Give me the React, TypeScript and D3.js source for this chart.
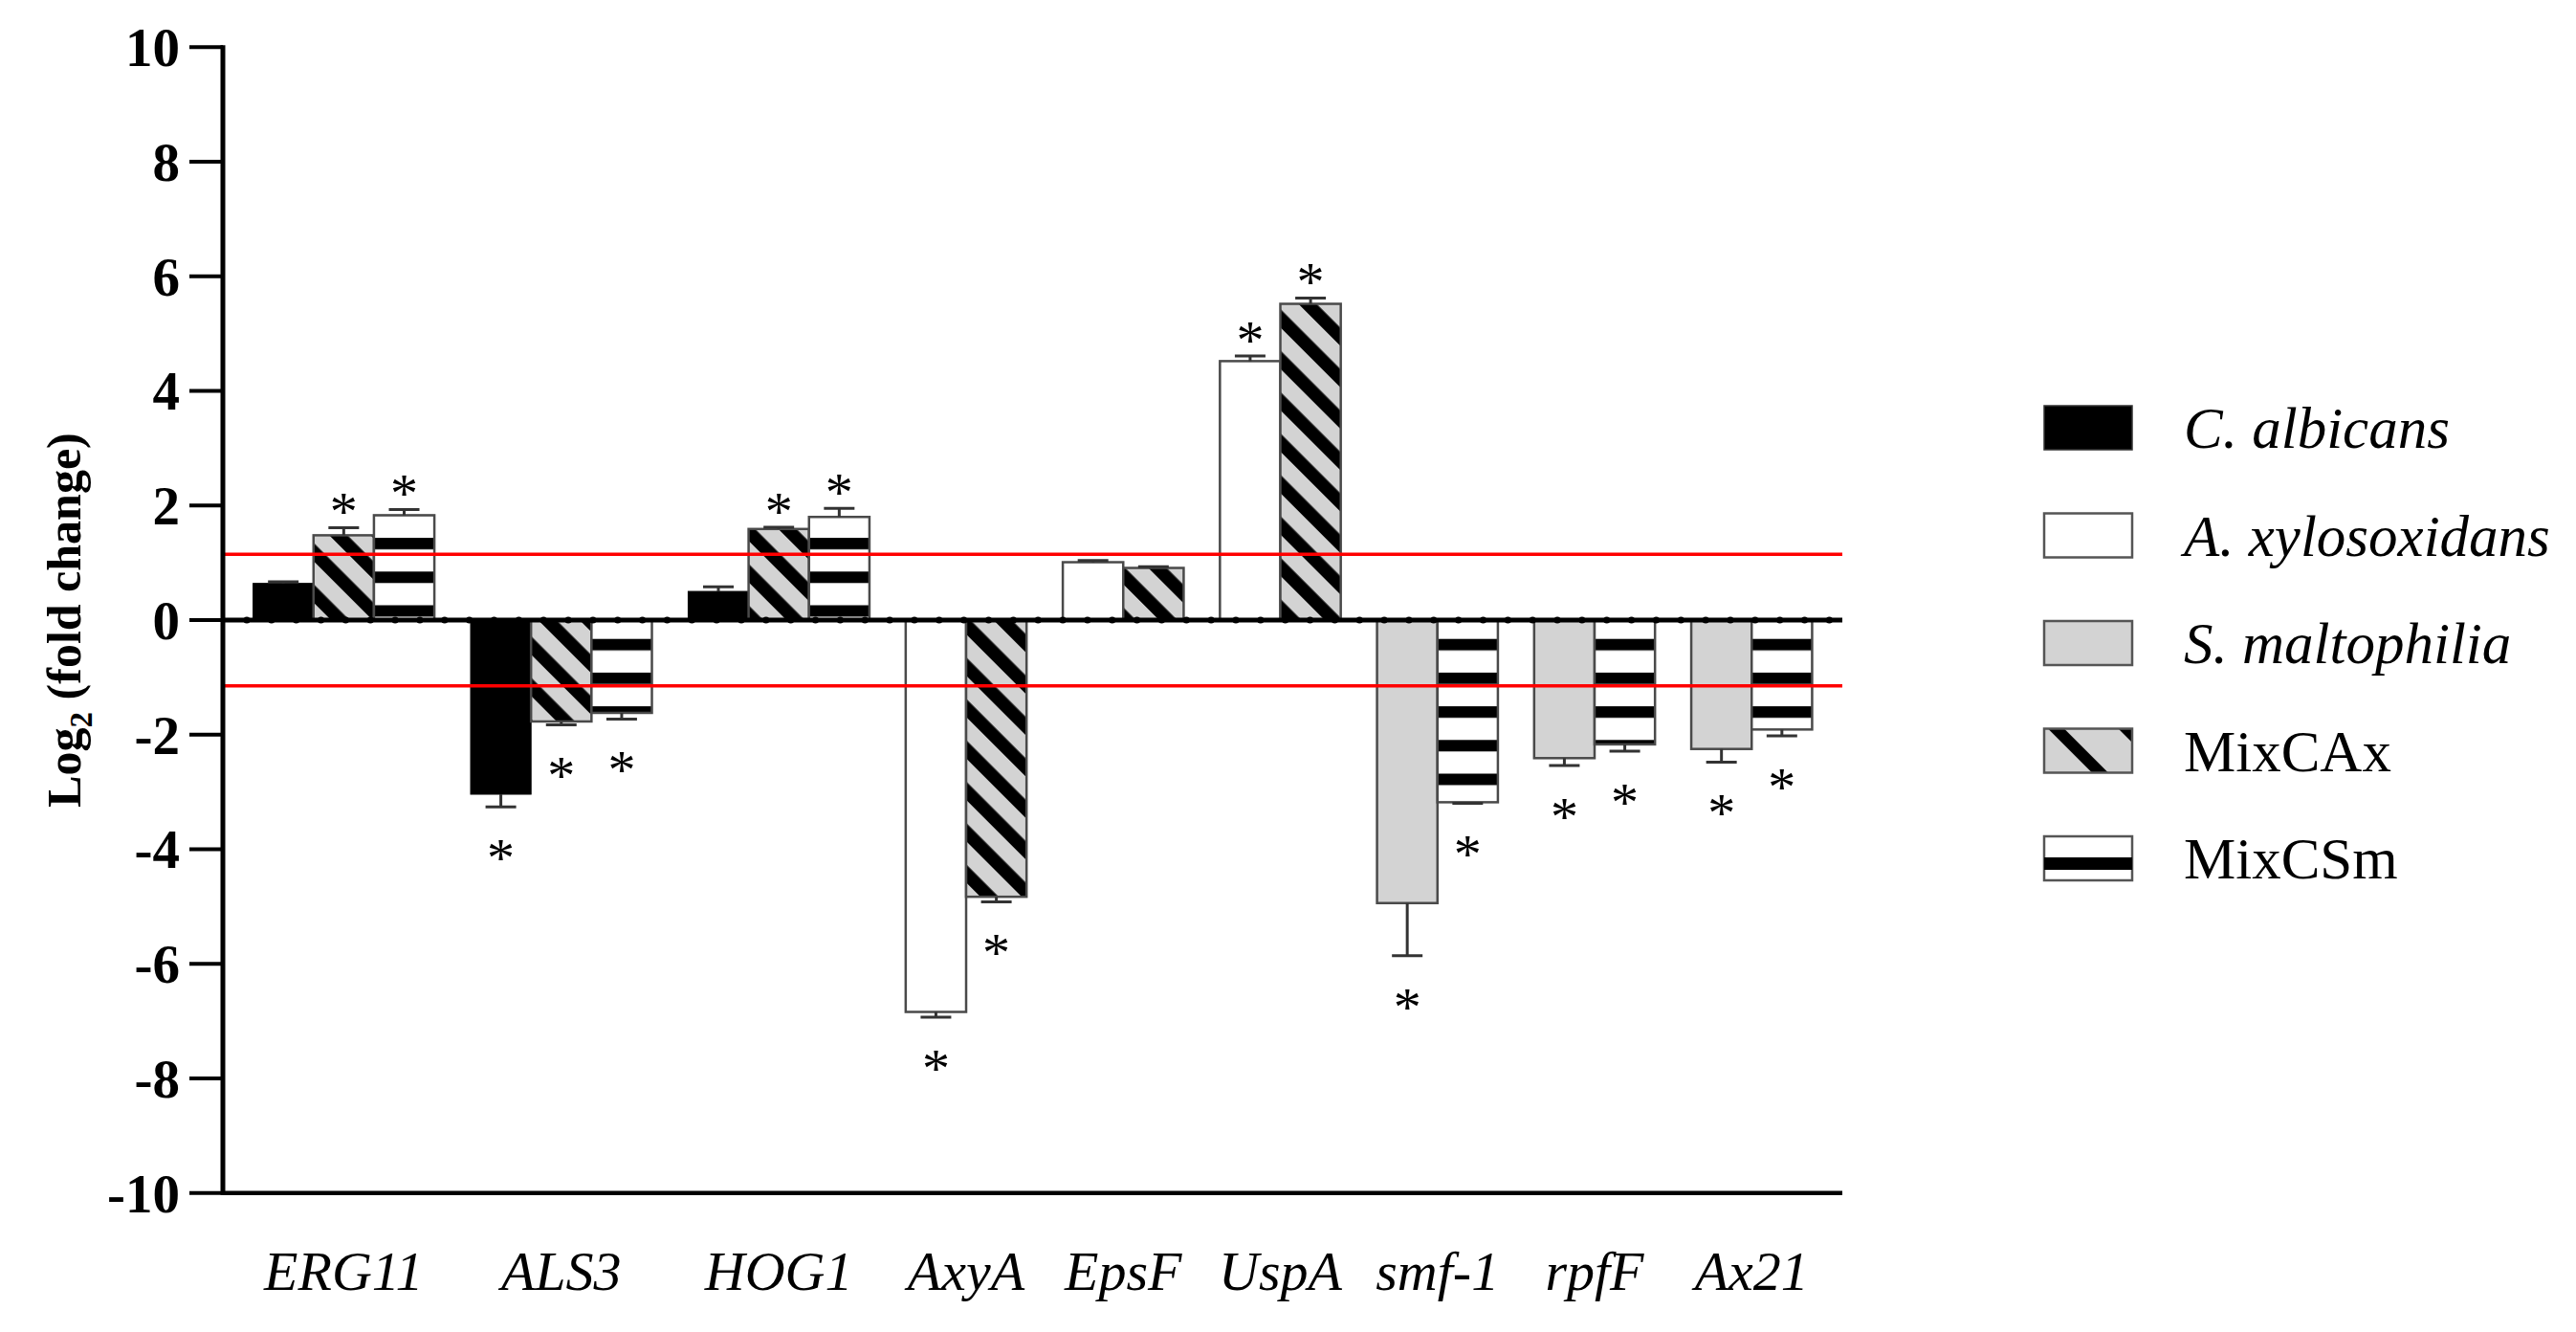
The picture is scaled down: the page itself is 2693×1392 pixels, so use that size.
import React from 'react';
import * as d3 from 'd3';

// ---------- data ----------
const genes = ['ERG11', 'ALS3', 'HOG1', 'AxyA', 'EpsF', 'UspA', 'smf-1', 'rpfF', 'Ax21'];
const seriesNames = ['C. albicans', 'A. xylosoxidans', 'S. maltophilia', 'MixCAx', 'MixCSm'];
const seriesItalic = [true, true, true, false, false];

const cAlbicans = [0.64, -3.04, 0.5, null, null, null, null, null, null];
const cAlbicansErr = [0.03, 0.22, 0.08, null, null, null, null, null, null];
const cAlbicansSig = [false, true, false, false, false, false, false, false, false];

const aXylo = [null, null, null, -6.84, 1.01, 4.52, null, null, null];
const aXyloErr = [null, null, null, 0.09, 0.03, 0.09, null, null, null];
const aXyloSig = [false, false, false, true, false, true, false, false, false];

const sMalto = [null, null, null, null, null, null, -4.94, -2.41, -2.25];
const sMaltoErr = [null, null, null, null, null, null, 0.92, 0.13, 0.23];
const sMaltoSig = [false, false, false, false, false, false, true, true, true];

const mixCAx = [1.48, -1.77, 1.59, -4.83, 0.91, 5.52, null, null, null];
const mixCAxErr = [0.13, 0.06, 0.03, 0.09, 0.02, 0.1, null, null, null];
const mixCAxSig = [true, true, true, true, false, true, false, false, false];

const mixCSm = [1.83, -1.62, 1.8, null, null, null, -3.18, -2.17, -1.91];
const mixCSmErr = [0.1, 0.11, 0.15, null, null, null, 0.02, 0.12, 0.11];
const mixCSmSig = [true, true, true, false, false, false, true, true, true];

const yTicks = [-10, -8, -6, -4, -2, 0, 2, 4, 6, 8, 10];
const threshold = 1.15;

const seriesValues = [cAlbicans, aXylo, sMalto, mixCAx, mixCSm];
const seriesErrs = [cAlbicansErr, aXyloErr, sMaltoErr, mixCAxErr, mixCSmErr];
const seriesSig = [cAlbicansSig, aXyloSig, sMaltoSig, mixCAxSig, mixCSmSig];

// ---------- layout ----------
const W = 2693;
const H = 1392;
const X0 = 233;
const X1 = 1926;
const GAP_UNITS = 0.6;
const SERIF = '"Liberation Serif", "Times New Roman", serif';

type Bar = { gi: number; si: number; u: number; v: number; e: number; sig: boolean };

const bars: Bar[] = [];
const groupSpan: { gi: number; start: number; end: number }[] = [];
let cursor = 0;
genes.forEach((g, gi) => {
  const start = cursor;
  let n = 0;
  seriesValues.forEach((vals, si) => {
    const v = vals[gi];
    if (v !== null && v !== undefined) {
      bars.push({ gi, si, u: cursor + n, v, e: seriesErrs[si][gi] ?? 0, sig: seriesSig[si][gi] });
      n += 1;
    }
  });
  groupSpan.push({ gi, start, end: start + n });
  cursor += n + GAP_UNITS;
});
const totalUnits = cursor - GAP_UNITS;

const x = d3.scaleLinear().domain([-0.5, totalUnits + 0.5]).range([X0, X1]);
const y = d3.scaleLinear().domain([-10, 10]).range([1246.7, 49.3]);

const fills = ['#000000', '#ffffff', '#d3d3d3', 'url(#pat-cax)', 'url(#pat-csm)'];
const strokes = ['#000000', '#4a4a4a', '#4a4a4a', '#4a4a4a', '#4a4a4a'];

export default function App() {
  const y0 = y(0);
  const dotStep = 25.85;
  const dots = d3.range(X0 + 25, X1 - 5, dotStep);
  const bandPeriod = 35.2;
  const bandTop = y0 - 9.5 - 6;

  // legend geometry
  const lgX = 2137;
  const lgW = 92;
  const lgH = 46;
  const lgTop = 424;
  const lgStep = 112.5;
  const lgTextX = 2283;
  const starSize = 58;

  return (
    <svg
      width={W}
      height={H}
      viewBox={`0 0 ${W} ${H}`}
      style={{ position: 'absolute', left: 0, top: 0, background: '#ffffff' }}
    >
      <defs>
        <pattern id="pat-cax" patternUnits="userSpaceOnUse" width={30.6} height={30.6}
          patternTransform={`translate(0 ${y0}) rotate(-45)`}>
          <rect x={0} y={0} width={30.6} height={30.6} fill="#d3d3d3" />
          <rect x={0} y={0} width={13.5} height={30.6} fill="#000000" />
        </pattern>
        <pattern id="pat-csm" patternUnits="userSpaceOnUse" x={0} y={bandTop} width={100} height={bandPeriod}>
          <rect x={0} y={0} width={100} height={bandPeriod} fill="#ffffff" />
          <rect x={0} y={0} width={100} height={12} fill="#000000" />
        </pattern>
        <pattern id="pat-cax-lg" patternUnits="userSpaceOnUse" width={52} height={52}
          patternTransform={`translate(${lgX + 4} ${lgTop + 3 * lgStep}) rotate(-45)`}>
          <rect x={0} y={0} width={52} height={52} fill="#d3d3d3" />
          <rect x={0} y={0} width={12} height={52} fill="#000000" />
        </pattern>
      </defs>

      {/* bars */}
      {bars.map((b, i) => {
        const xa = x(b.u);
        const xb = x(b.u + 1);
        const yv = y(b.v);
        const top = Math.min(yv, y0);
        const h = Math.abs(yv - y0);
        return (
          <rect key={`bar-${i}`} x={xa} y={top} width={xb - xa} height={h}
            fill={fills[b.si]} stroke={strokes[b.si]} strokeWidth={b.si === 0 ? 1 : 2.5} />
        );
      })}

      {/* error bars */}
      {bars.map((b, i) => {
        if (!b.e) return null;
        const cx = x(b.u + 0.5);
        const yv = y(b.v);
        const ye = y(b.v + Math.sign(b.v) * b.e);
        return (
          <g key={`err-${i}`} stroke="#333333" strokeWidth={3}>
            <line x1={cx} x2={cx} y1={yv} y2={ye} />
            <line x1={cx - 16} x2={cx + 16} y1={ye} y2={ye} />
          </g>
        );
      })}

      {/* significance stars */}
      {bars.map((b, i) => {
        if (!b.sig) return null;
        const cx = x(b.u + 0.5);
        const ye = y(b.v + Math.sign(b.v) * b.e);
        const cy = b.v > 0 ? ye - 28 : ye + 42;
        return (
          <text key={`star-${i}`} x={cx} y={cy + starSize * 0.53} textAnchor="middle"
            fontFamily={SERIF} fontSize={starSize} fill="#000">*</text>
        );
      })}

      {/* threshold lines */}
      {[threshold, -threshold].map((t) => (
        <line key={`thr-${t}`} x1={X0} x2={X1} y1={y(t)} y2={y(t)} stroke="#ff0000" strokeWidth={3.5} />
      ))}

      {/* zero line with dots */}
      <line x1={X0} x2={X1} y1={y0} y2={y0} stroke="#000" strokeWidth={5} />
      {dots.map((d, i) => (
        <circle key={`dot-${i}`} cx={d} cy={y0} r={3.6} fill="#000" />
      ))}

      {/* bottom axis line */}
      <line x1={X0} x2={X1} y1={y(-10)} y2={y(-10)} stroke="#000" strokeWidth={4.5} />

      {/* y axis */}
      <line x1={X0} x2={X0} y1={y(10) - 2} y2={y(-10) + 2} stroke="#000" strokeWidth={5} />
      {yTicks.map((t) => (
        <g key={`yt-${t}`}>
          <line x1={X0 - 35} x2={X0} y1={y(t)} y2={y(t)} stroke="#000" strokeWidth={4} />
          <text x={188} y={y(t)} dy="0.35em" textAnchor="end" fontFamily={SERIF}
            fontWeight="bold" fontSize={57} fill="#000">{t}</text>
        </g>
      ))}

      {/* y title */}
      <text transform={`translate(84 ${y0}) rotate(-90)`} textAnchor="middle"
        fontFamily={SERIF} fontWeight="bold" fontSize={50} fill="#000">
        Log<tspan fontSize={33} dy={12}>2</tspan><tspan dy={-12}> (fold change)</tspan>
      </text>

      {/* x category labels */}
      {groupSpan.map((g) => (
        <text key={`xl-${g.gi}`} x={x((g.start + g.end) / 2)} y={1348} textAnchor="middle"
          fontFamily={SERIF} fontStyle="italic" fontSize={58} fill="#000">{genes[g.gi]}</text>
      ))}

      {/* legend */}
      {seriesNames.map((name, si) => {
        const top = lgTop + si * lgStep;
        let swatch;
        if (si === 0) {
          swatch = <rect x={lgX} y={top} width={lgW} height={lgH} fill="#000" stroke="#333" strokeWidth={1.5} />;
        } else if (si === 1) {
          swatch = <rect x={lgX} y={top} width={lgW} height={lgH} fill="#fff" stroke="#555" strokeWidth={2.5} />;
        } else if (si === 2) {
          swatch = <rect x={lgX} y={top} width={lgW} height={lgH} fill="#d3d3d3" stroke="#555" strokeWidth={2.5} />;
        } else if (si === 3) {
          swatch = <rect x={lgX} y={top} width={lgW} height={lgH} fill="url(#pat-cax-lg)" stroke="#555" strokeWidth={2.5} />;
        } else {
          swatch = (
            <g>
              <rect x={lgX} y={top} width={lgW} height={lgH} fill="#fff" stroke="#555" strokeWidth={2.5} />
              <rect x={lgX} y={top + 22} width={lgW} height={13} fill="#000" />
            </g>
          );
        }
        return (
          <g key={`lg-${si}`}>
            {swatch}
            <text x={lgTextX} y={top + 44} fontFamily={SERIF} fontSize={61}
              fontStyle={seriesItalic[si] ? 'italic' : 'normal'} fill="#000">{name}</text>
          </g>
        );
      })}
    </svg>
  );
}
